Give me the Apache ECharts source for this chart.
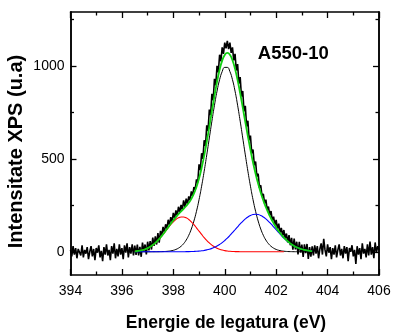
<!DOCTYPE html>
<html>
<head>
<meta charset="utf-8">
<script src="https://cdn.jsdelivr.net/npm/echarts@6.0.0/dist/echarts.min.js"></script>
<style>
  html, body { margin: 0; padding: 0; background: #fff; }
  #chart { width: 393px; height: 335px; }
</style>
</head>
<body>
<div id="chart"></div>
<script>
// Measured spectrum, evenly spaced in binding energy
const energyStart = 394;
const energyStep = 0.05;
const counts = [
  10, -25, 30, -15, 20, -35, 15, 5, -20, 35,
  -30, 10, -10, 25, -40, 0, 30, -25, 15, -45,
  20, -5, 35, -30, 5, -50, 25, -15, 40, -20,
  10, -45, 30, -10, 45, -35, 15, -25, 40, -15,
  20, -40, 35, -5, 45, -30, 25, -10, 40, -20,
  33, -17, 39, -20, 26, -27, 49, 2, 39, -14,
  54, 8, 57, 12, 76, 32, 83, 39, 101, 49,
  112, 86, 134, 104, 148, 123, 172, 143, 186, 161,
  209, 180, 222, 196, 242, 212, 252, 226, 276, 242,
  286, 256, 298, 277, 325, 300, 348, 333, 389, 374,
  470, 440, 530, 500, 600, 570, 680, 650, 765, 735,
  850, 815, 930, 895, 1000, 965, 1060, 1025, 1100, 1065,
  1125, 1095, 1135, 1090, 1125, 1070, 1100, 1030, 1065, 975,
  1010, 905, 940, 835, 865, 755, 785, 675, 705, 600,
  625, 530, 550, 465, 485, 405, 420, 344, 358, 300,
  311, 260, 280, 225, 243, 195, 219, 168, 189, 144,
  171, 122, 151, 103, 128, 86, 117, 70, 98, 50,
  90, 35, 75, 11, 71, 13, 54, -14, 53, -4,
  39, -28, 40, -7, 42, -39, 25, -26, 29,
  -20, 35, -10, 30, -35, 15, 45, -15, 70, 10,
  -25, 40, -5, 25, -40, 20, -15, 35, -30, 10,
  40, -20, 15, -35, 30, -10, 25, -50, 20, 0,
  35, -25, 10, -65, 30, -15, 20, -40, 45, -10,
  15, -30, 40, -20, 55, -15, 25, -35, 50, -5,
  30, 10
];

// Fitted curves, sampled every 0.1 eV from 396.5 eV
const fitStart = 396.5;
const fitStep = 0.1;
const fitEnvelope = [
  2.6, 4.1, 6.3, 9.3, 13.6, 19.3, 26.8, 36.1, 47.6, 61.1,
  76.8, 94.1, 112.6, 131.8, 150.9, 169.2, 186.5, 202.3, 217.1, 231.2,
  246.2, 263.3, 284.9, 312.9, 348.9, 394.7, 450.8, 517.0, 592.0, 673.2,
  757.0, 838.9, 914.7, 979.1, 1028.3, 1059.2, 1069.9, 1060.0, 1030.5, 983.9,
  923.2, 852.7, 776.4, 698.1, 621.0, 548.0, 480.5, 419.6, 365.5, 317.9,
  276.1, 239.7, 207.5, 179.1, 153.8, 131.1, 110.8, 92.7, 76.7, 62.5,
  50.4, 40.1, 31.3, 24.1, 18.3, 13.6, 10.0, 7.2, 5.1, 3.6
];
const peakMain = [
  0, 0, 0, 0, 0, 0, 0, 0.1, 0.2, 0.3,
  0.6, 1.0, 1.7, 3.0, 4.9, 7.9, 12.6, 19.5, 29.5, 43.5,
  62.9, 88.7, 122.5, 165.2, 217.6, 280.2, 352.6, 433.6, 521.2, 612.2,
  702.8, 788.3, 864.4, 926.0, 969.6, 992.1, 992.1, 969.6, 926.0, 864.4,
  788.3, 702.8, 612.2, 521.2, 433.6, 352.6, 280.2, 217.6, 165.2, 122.5,
  88.7, 62.9, 43.5, 29.5, 19.5, 12.6, 7.9, 4.9, 3.0, 1.7,
  1.0, 0.6, 0.3, 0.2, 0.1, 0, 0, 0, 0, 0
];
// low energy component stops at 402.3 eV
const peakLow = [
  2.6, 4.1, 6.3, 9.3, 13.6, 19.3, 26.7, 36.0, 47.4, 60.8,
  76.2, 93.1, 110.9, 128.8, 146.0, 161.3, 173.9, 182.8, 187.4, 187.4,
  182.8, 173.9, 161.3, 146.0, 128.8, 110.9, 93.1, 76.2, 60.8, 47.4,
  36.0, 26.7, 19.3, 13.6, 9.3, 6.3, 4.1, 2.6, 1.6, 1.0,
  0.6, 0.3, 0.2, 0.1, 0, 0, 0, 0, 0, 0,
  0, 0, 0, 0, 0, 0, 0, 0, 0
];
const peakHigh = [
  0, 0, 0, 0, 0, 0, 0, 0, 0, 0,
  0, 0, 0, 0, 0, 0, 0, 0, 0.2, 0.3,
  0.5, 0.7, 1.1, 1.7, 2.5, 3.6, 5.1, 7.2, 10.0, 13.6,
  18.2, 23.9, 31.0, 39.5, 49.4, 60.8, 73.7, 87.8, 102.9, 118.5,
  134.3, 149.6, 164.0, 176.8, 187.4, 195.4, 200.3, 202.0, 200.3, 195.4,
  187.4, 176.8, 164.0, 149.6, 134.3, 118.5, 102.9, 87.8, 73.7, 60.8,
  49.4, 39.5, 31.0, 23.9, 18.2, 13.6, 10.0, 7.2, 5.1, 3.6
];

// Axis ticks
const yMajorTicks = [0, 500, 1000];
const yMinorTicks = [250, 750, 1250];

const font = '"Liberation Sans", Arial, sans-serif';

const toPairs = (values, start, step) =>
  values.map((v, i) => [+(start + i * step).toFixed(2), v]);

const chart = echarts.init(document.getElementById("chart"));

const xBase = {
  type: "value",
  min: 394,
  max: 406,
  interval: 2,
  axisLine: { show: true, onZero: false, lineStyle: { color: "#000", width: 1.5 } },
  axisTick: { inside: true, length: 6, lineStyle: { color: "#000", width: 1.3 } },
  minorTick: { show: true, splitNumber: 2, length: 3.5, lineStyle: { color: "#000", width: 1.3 } },
  splitLine: { show: false },
};

const yBase = {
  type: "value",
  min: -125,
  max: 1290,
  axisLine: { show: true, onZero: false, lineStyle: { color: "#000", width: 1.5 } },
  splitLine: { show: false },
  axisLabel: { show: false },
};

const option = {
  animation: false,
  grid: {
    left: 70.5,
    right: 14,
    top: 12,
    bottom: 60,
    outerBoundsMode: "none",
  },
  xAxis: [
    {
      ...xBase,
      position: "bottom",
      axisLabel: {
        color: "#000",
        fontFamily: font,
        fontSize: 14,
        margin: 9,
      },
    },
    { ...xBase, position: "top", axisLabel: { show: false } },
  ],
  yAxis: [
    {
      ...yBase,
      position: "left",
      axisTick: {
        inside: true,
        length: 6,
        customValues: yMajorTicks,
        lineStyle: { color: "#000", width: 1.3 },
      },
      axisLabel: {
        show: true,
        customValues: yMajorTicks,
        formatter: (v) => String(v),
        color: "#000",
        fontFamily: font,
        fontSize: 14,
        margin: 6,
      },
    },
    {
      ...yBase,
      position: "left",
      axisTick: {
        inside: true,
        length: 3.5,
        customValues: yMinorTicks,
        lineStyle: { color: "#000", width: 1.3 },
      },
    },
    {
      ...yBase,
      position: "right",
      axisTick: {
        inside: true,
        length: 6,
        customValues: yMajorTicks,
        lineStyle: { color: "#000", width: 1.3 },
      },
    },
    {
      ...yBase,
      position: "right",
      axisTick: {
        inside: true,
        length: 3.5,
        customValues: yMinorTicks,
        lineStyle: { color: "#000", width: 1.3 },
      },
    },
  ],
  series: [
    {
      name: "Data",
      type: "line",
      data: toPairs(counts, energyStart, energyStep),
      symbol: "none",
      lineStyle: { color: "#000", width: 1.6 },
      z: 1,
    },
    {
      name: "Main peak",
      type: "line",
      smooth: true,
      data: toPairs(peakMain, fitStart, fitStep),
      symbol: "none",
      lineStyle: { color: "#000", width: 1 },
      z: 2,
    },
    {
      name: "Low energy peak",
      type: "line",
      smooth: true,
      data: toPairs(peakLow, fitStart, fitStep),
      symbol: "none",
      lineStyle: { color: "#ff0000", width: 1.1 },
      z: 3,
    },
    {
      name: "High energy peak",
      type: "line",
      smooth: true,
      data: toPairs(peakHigh, fitStart, fitStep),
      symbol: "none",
      lineStyle: { color: "#0000ff", width: 1.1 },
      z: 4,
    },
    {
      name: "Fit",
      type: "line",
      smooth: true,
      data: toPairs(fitEnvelope, fitStart, fitStep),
      symbol: "none",
      lineStyle: { color: "#10d010", width: 1.8 },
      z: 5,
    },
  ],
  graphic: [
    {
      // y axis title
      type: "text",
      x: 16.5,
      y: 151.5,
      rotation: Math.PI / 2,
      style: {
        text: "Intensitate XPS (u.a)",
        fontFamily: font,
        fontWeight: "bold",
        fontSize: 20,
        fill: "#000",
        align: "center",
        verticalAlign: "middle",
      },
    },
    {
      // x axis title
      type: "text",
      x: 226,
      y: 323.5,
      style: {
        text: "Energie de legatura (eV)",
        fontFamily: font,
        fontWeight: "bold",
        fontSize: 17.5,
        fill: "#000",
        align: "center",
        verticalAlign: "middle",
      },
    },
    {
      // sample label
      type: "text",
      x: 293.3,
      y: 54,
      style: {
        text: "A550-10",
        fontFamily: font,
        fontWeight: "bold",
        fontSize: 18.5,
        fill: "#000",
        align: "center",
        verticalAlign: "middle",
      },
    },
  ],
};

chart.setOption(option);
</script>
</body>
</html>
